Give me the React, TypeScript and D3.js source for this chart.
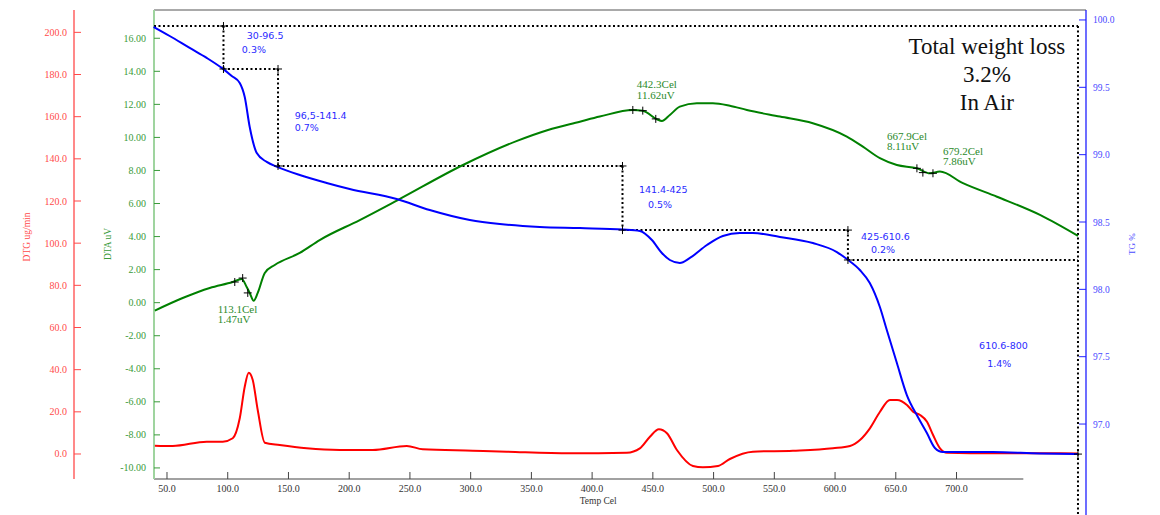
import React from 'react';
import * as d3 from 'd3';

// ---------- data ----------
const tempDomain: [number, number] = [39.3, 806.6];
const tempAxisEnd = 755;
const tempTicks = [50, 100, 150, 200, 250, 300, 350, 400, 450, 500, 550, 600, 650, 700];
const tempTitleAt = 405;
const dtgDomain: [number, number] = [-11.86, 210.6];
const dtgTicks = [0, 20, 40, 60, 80, 100, 120, 140, 160, 180, 200];
const dtaDomain: [number, number] = [-10.67, 17.71];
const dtaTicks = [-10, -8, -6, -4, -2, 0, 2, 4, 6, 8, 10, 12, 14, 16];
const tgDomain: [number, number] = [96.592, 100.074];
const tgTicks = [97.0, 97.5, 98.0, 98.5, 99.0, 99.5, 100.0];

// TG % vs temperature
const tgCurve: [number, number][] = [
  [39.0, 99.948], [52.2, 99.881], [68.7, 99.792], [82.7, 99.718], [95.0, 99.644],
  [103.3, 99.584], [109.9, 99.532], [114.0, 99.428], [118.1, 99.205], [123.9, 99.012],
  [132.1, 98.946], [141.2, 98.908], [159.3, 98.849], [181.5, 98.79], [200.4, 98.745],
  [239.1, 98.671], [266.3, 98.589], [299.3, 98.515], [324.0, 98.485], [356.9, 98.463],
  [389.9, 98.455], [425.3, 98.444], [439.3, 98.433], [449.2, 98.366], [457.4, 98.27],
  [464.0, 98.218], [472.2, 98.196], [480.5, 98.233], [494.5, 98.329], [507.6, 98.396],
  [521.6, 98.418], [532.3, 98.418], [554.6, 98.389], [581.7, 98.344], [601.5, 98.277],
  [609.7, 98.225], [620.4, 98.144], [628.6, 98.047], [636.9, 97.869], [642.6, 97.698],
  [650.9, 97.453], [659.1, 97.215], [668.2, 97.052], [675.6, 96.933], [682.2, 96.822],
  [688.7, 96.792], [729.9, 96.792], [768.6, 96.781], [799.9, 96.777],
];

// DTA uV vs temperature
const dtaCurve: [number, number][] = [
  [40.0, -0.48], [62.9, 0.28], [85.2, 0.89], [104.1, 1.25], [111.5, 1.43], [115.6, 0.95],
  [118.1, 0.59], [121.4, 0.12], [124.7, 0.59], [130.5, 1.8], [138.7, 2.28], [159.3, 3.01],
  [175.7, 3.79], [208.7, 5.0], [240.0, 6.21], [293.7, 8.33], [338.2, 9.79], [363.7, 10.45],
  [389.9, 10.95], [406.3, 11.26], [433.5, 11.66], [441.7, 11.62], [453.3, 11.1],
  [457.4, 11.0], [464.0, 11.36], [472.2, 11.86], [486.2, 12.07], [499.4, 12.07],
  [513.4, 11.92], [527.4, 11.66], [554.6, 11.26], [581.7, 10.86], [609.7, 10.05],
  [622.9, 9.44], [636.9, 8.74], [650.9, 8.33], [667.4, 8.13], [678.1, 7.83], [686.3, 7.93],
  [705.3, 7.23], [733.3, 6.41], [768.7, 5.31], [800.0, 4.04],
];

// DTG ug/min vs temperature
const dtgCurve: [number, number][] = [
  [40.0, 3.94], [54.7, 3.79], [82.7, 5.83], [95.9, 5.83], [104.1, 7.45], [109.9, 16.93],
  [114.0, 31.92], [117.3, 38.56], [120.6, 35.1], [124.7, 20.87], [130.5, 5.36],
  [142.8, 4.27], [165.0, 2.7], [192.2, 1.9], [219.4, 1.9], [247.4, 3.79], [260.6, 2.23],
  [301.8, 1.57], [329.8, 1.09], [381.7, 0.33], [428.6, 0.62], [439.3, 2.7], [447.6, 8.2],
  [455.0, 11.71], [461.6, 9.82], [469.8, 1.9], [483.0, -5.69], [491.2, -6.31],
  [503.6, -5.69], [513.4, -2.37], [532.4, 1.09], [565.3, 1.57], [598.3, 2.7],
  [612.3, 3.79], [620.5, 6.64], [628.7, 12.19], [637.0, 20.06], [645.2, 25.61],
  [651.0, 25.61], [659.2, 23.24], [664.2, 20.06], [670.0, 18.5], [675.7, 15.32],
  [680.7, 9.01], [686.4, 2.7], [692.2, 0.62], [730.1, 0.33], [785.3, 0.33], [800.0, 0.24],
];

// TG weight-loss steps
const stepTemps = [39.3, 96.5, 141.4, 425, 610.6, 800];
const stepLevels = [99.955, 99.636, 98.916, 98.44, 98.218, 96.777];
const stepRangeLabels = ['30-96.5', '96,5-141.4', '141.4-425', '425-610.6', '610.6-800'];
const stepLossLabels = ['0.3%', '0.7%', '0.5%', '0.2%', '1.4%'];
const stepRangeAnchor: [number, number][] = [
  [115.7, 99.859], [155.2, 99.265], [438.5, 98.715], [621.4, 98.366], [718.6, 97.557],
];
const stepLossAnchor: [number, number][] = [
  [111.6, 99.755], [155.2, 99.176], [445.9, 98.604], [629.6, 98.27], [725.2, 97.423],
];

// DTA peak annotations
const peakTempLabels = ['113.1Cel', '442.3Cel', '667.9Cel', '679.2Cel'];
const peakValueLabels = ['1.47uV', '11.62uV', '8.11uV', '7.86uV'];
const peakLabelAnchor: [number, number][] = [
  [91.7, -0.62], [436.8, 12.99], [642.7, 9.85], [688.8, 8.94],
];
const peakMarkers: [number, number][] = [
  [105.8, 1.25], [112.3, 1.49], [116.5, 0.59],
  [433.5, 11.66], [441.7, 11.62], [452.4, 11.12],
  [667.4, 8.13], [672.3, 7.87], [680.6, 7.83],
];

const summaryLines = ['Total weight loss', '3.2%', 'In Air'];
const summaryTemp = 725;

// ---------- layout ----------
const W = 1160;
const H = 515;
const left = 154;
const right = 1086;
const top = 10;
const bottom = 479;
const dtgAxisX = 74;

const serif = '"Liberation Serif", "Times New Roman", serif';
const sans = '"DejaVu Sans", Verdana, sans-serif';

const BLUE = '#0000ff';
const GREEN = '#008000';
const RED = '#ff0000';
const BLUE_LBL = '#4848ff';
const GREEN_LBL = '#3a9a3a';
const RED_LBL = '#ff4a4a';
const GREEN_TXT = '#2b8a2b';

function Plus({ x, y, s = 4 }: { x: number; y: number; s?: number }) {
  return (
    <g stroke="#000" strokeWidth={1}>
      <line x1={x - s} x2={x + s} y1={y} y2={y} />
      <line x1={x} x2={x} y1={y - s} y2={y + s} />
    </g>
  );
}

export default function App() {
  const x = d3.scaleLinear().domain(tempDomain).range([left, right]);
  const yDTA = d3.scaleLinear().domain(dtaDomain).range([bottom, top]);
  const yDTG = d3.scaleLinear().domain(dtgDomain).range([bottom, top]);
  const yTG = d3.scaleLinear().domain(tgDomain).range([bottom, top]);

  const mk = (ys: d3.ScaleLinear<number, number>) =>
    d3
      .line<[number, number]>()
      .x((d) => x(d[0]))
      .y((d) => ys(d[1]))
      .curve(d3.curveMonotoneX);

  const tgPath = mk(yTG)(tgCurve) || '';
  const dtaPath = mk(yDTA)(dtaCurve) || '';
  const dtgPath = mk(yDTG)(dtgCurve) || '';

  // staircase of dotted lines
  const stairs: { x1: number; y1: number; x2: number; y2: number }[] = [];
  const x0 = x(stepTemps[0]);
  const xEnd = x(stepTemps[stepTemps.length - 1]);
  stairs.push({ x1: x0, y1: yTG(stepLevels[0]), x2: xEnd, y2: yTG(stepLevels[0]) });
  for (let i = 1; i < stepTemps.length - 1; i++) {
    const xi = x(stepTemps[i]);
    stairs.push({ x1: xi, y1: yTG(stepLevels[i - 1]), x2: xi, y2: yTG(stepLevels[i]) });
    const xn = x(stepTemps[i + 1]);
    stairs.push({ x1: xi, y1: yTG(stepLevels[i]), x2: xn, y2: yTG(stepLevels[i]) });
  }
  stairs.push({ x1: xEnd, y1: yTG(stepLevels[0]), x2: xEnd, y2: H });

  const corners: [number, number][] = [];
  for (let i = 1; i < stepTemps.length - 1; i++) {
    corners.push([x(stepTemps[i]), yTG(stepLevels[i - 1])]);
    corners.push([x(stepTemps[i]), yTG(stepLevels[i])]);
  }
  corners.push([xEnd, yTG(stepLevels[stepLevels.length - 1])]);

  const summaryX = x(summaryTemp);

  return (
    <svg
      width={W}
      height={H}
      style={{ position: 'absolute', left: 0, top: 0, background: '#fff' }}
    >
      <rect x={0} y={0} width={W} height={H} fill="#fff" />

      {/* frame top */}
      <line x1={left} x2={right} y1={top} y2={top} stroke="#555" strokeWidth={1} />

      {/* x axis */}
      <line x1={left} x2={x(tempAxisEnd)} y1={bottom} y2={bottom} stroke="#444" strokeWidth={1.2} />
      {tempTicks.map((t) => (
        <g key={'xt' + t}>
          <line x1={x(t)} x2={x(t)} y1={bottom} y2={bottom - 7} stroke="#444" strokeWidth={1} />
          <text
            x={x(t)}
            y={bottom + 13}
            textAnchor="middle"
            fontFamily={serif}
            fontSize={10}
            fill="#333"
          >
            {t.toFixed(1)}
          </text>
        </g>
      ))}
      <text
        x={x(tempTitleAt)}
        y={bottom + 25}
        textAnchor="middle"
        fontFamily={serif}
        fontSize={9.5}
        fill="#333"
      >
        Temp Cel
      </text>

      {/* DTG axis (red) */}
      <line x1={dtgAxisX} x2={dtgAxisX} y1={top} y2={bottom} stroke={RED_LBL} strokeWidth={1.3} />
      {dtgTicks.map((v) => (
        <g key={'dtg' + v}>
          <line x1={dtgAxisX} x2={dtgAxisX + 7} y1={yDTG(v)} y2={yDTG(v)} stroke={RED_LBL} strokeWidth={1} />
          <text
            x={dtgAxisX - 7}
            y={yDTG(v) + 3.5}
            textAnchor="end"
            fontFamily={serif}
            fontSize={10}
            fill={RED_LBL}
          >
            {v.toFixed(1)}
          </text>
        </g>
      ))}
      <text
        transform={`translate(30, 237) rotate(-90)`}
        textAnchor="middle"
        fontFamily={serif}
        fontSize={9.5}
        fill={RED_LBL}
      >
        DTG ug/min
      </text>

      {/* DTA axis (green) */}
      <line x1={left} x2={left} y1={top} y2={bottom} stroke="#9fd49f" strokeWidth={2} />
      {dtaTicks.map((v) => (
        <g key={'dta' + v}>
          <line x1={left} x2={left + 6} y1={yDTA(v)} y2={yDTA(v)} stroke={GREEN_LBL} strokeWidth={1} />
          <text
            x={left - 8}
            y={yDTA(v) + 3.5}
            textAnchor="end"
            fontFamily={serif}
            fontSize={10}
            fill={GREEN_LBL}
          >
            {v.toFixed(2)}
          </text>
        </g>
      ))}
      <text
        transform={`translate(111, 244) rotate(-90)`}
        textAnchor="middle"
        fontFamily={serif}
        fontSize={9.5}
        fill={GREEN_LBL}
      >
        DTA uV
      </text>

      {/* TG axis (blue) */}
      <line x1={right} x2={right} y1={top} y2={H} stroke="#2020ff" strokeWidth={1.3} />
      {tgTicks.map((v) => (
        <g key={'tg' + v}>
          <line x1={right - 7} x2={right} y1={yTG(v)} y2={yTG(v)} stroke="#2020ff" strokeWidth={1} />
          <text
            x={right + 7}
            y={yTG(v) + 3.5}
            textAnchor="start"
            fontFamily={serif}
            fontSize={9.5}
            fill={BLUE_LBL}
          >
            {v.toFixed(1)}
          </text>
        </g>
      ))}
      <text
        transform={`translate(1135, 244) rotate(-90)`}
        textAnchor="middle"
        fontFamily={serif}
        fontSize={9}
        fill={BLUE_LBL}
      >
        TG %
      </text>

      {/* dotted staircase */}
      <g stroke="#000" strokeWidth={2} strokeDasharray="2,2.5" fill="none">
        {stairs.map((s, i) => (
          <line key={'st' + i} x1={s.x1} y1={s.y1} x2={s.x2} y2={s.y2} />
        ))}
      </g>

      {/* curves */}
      <path d={dtgPath} fill="none" stroke={RED} strokeWidth={2} />
      <path d={dtaPath} fill="none" stroke={GREEN} strokeWidth={2} />
      <path d={tgPath} fill="none" stroke={BLUE} strokeWidth={2} />

      {/* markers */}
      {corners.map((c, i) => (
        <Plus key={'c' + i} x={c[0]} y={c[1]} />
      ))}
      {peakMarkers.map((p, i) => (
        <Plus key={'pm' + i} x={x(p[0])} y={yDTA(p[1])} />
      ))}

      {/* step labels */}
      {stepRangeLabels.map((lbl, i) => (
        <g key={'sl' + i} fontFamily={sans} fontSize={9.5} fill="#2a2aff">
          <text x={x(stepRangeAnchor[i][0])} y={yTG(stepRangeAnchor[i][1])}>
            {lbl}
          </text>
          <text x={x(stepLossAnchor[i][0])} y={yTG(stepLossAnchor[i][1])}>
            {stepLossLabels[i]}
          </text>
        </g>
      ))}

      {/* peak labels */}
      {peakTempLabels.map((lbl, i) => (
        <g key={'pl' + i} fontFamily={serif} fontSize={11} fill={GREEN_TXT}>
          <text x={x(peakLabelAnchor[i][0])} y={yDTA(peakLabelAnchor[i][1])}>
            {lbl}
          </text>
          <text x={x(peakLabelAnchor[i][0])} y={yDTA(peakLabelAnchor[i][1]) + 10.5}>
            {peakValueLabels[i]}
          </text>
        </g>
      ))}

      {/* summary */}
      {summaryLines.map((s, i) => (
        <text
          key={'sum' + i}
          x={summaryX}
          y={top + 44 + i * 28}
          textAnchor="middle"
          fontFamily={serif}
          fontSize={23}
          fill="#111"
        >
          {s}
        </text>
      ))}
    </svg>
  );
}
